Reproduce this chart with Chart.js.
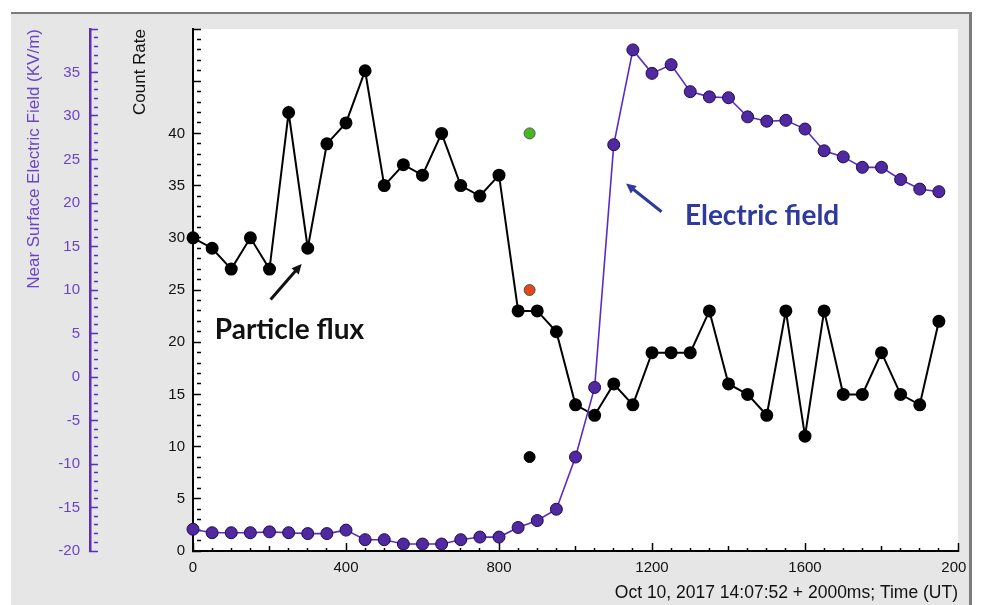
<!DOCTYPE html>
<html lang="en">
<head>
<meta charset="UTF-8">
<title>Particle flux and near surface electric field</title>
<script src="https://cdn.jsdelivr.net/npm/chart.js"></script>
<style>
  html, body { margin: 0; padding: 0; background: #fff; }
  #caixa { width: 981px; height: 605px; }
</style>
</head>
<body>
<div id="caixa"><canvas id="grafico" width="981" height="605"></canvas></div>
<script>
// tempo em ms depois de Oct 10, 2017 14:07:52 + 2000ms
const tempos = [0, 50, 100, 150, 200, 250, 300, 350, 400, 450,
                500, 550, 600, 650, 700, 750, 800, 850, 900, 950,
                1000, 1050, 1100, 1150, 1200, 1250, 1300, 1350, 1400, 1450,
                1500, 1550, 1600, 1650, 1700, 1750, 1800, 1850, 1900, 1950];

// Count Rate (eixo interno, preto)
const contagem = [30, 29, 27, 30, 27, 42, 29, 39, 41, 46,
                  35, 37, 36, 40, 35, 34, 36, 23, 23, 21,
                  14, 13, 16, 14, 19, 19, 19, 23, 16, 15,
                  13, 23, 11, 23, 15, 15, 19, 15, 14, 22];

// Near Surface Electric Field em KV/m (eixo externo, roxo)
const campoEletrico = [-17.5, -17.9, -17.9, -17.9, -17.8, -17.9, -18.0, -18.0, -17.6, -18.7,
                       -18.7, -19.2, -19.2, -19.2, -18.7, -18.4, -18.4, -17.3, -16.5, -15.2,
                       -9.2, -1.2, 26.7, 37.6, 34.9, 35.9, 32.8, 32.2, 32.1, 29.9,
                       29.4, 29.5, 28.5, 26.0, 25.3, 24.1, 24.1, 22.7, 21.6, 21.3];

// pontos soltos perto de 880 ms
const tempoSolto = 880;
const pontoVerde = 40;
const pontoVermelho = 25;
const pontoPreto = 9;

// textos e setas, em unidades dos eixos (x, count rate)
const notas = [
  { texto: 'Particle flux', t: 57, c: 21.2, cor: '#111111' },
  { texto: 'Electric field', t: 1286, c: 32.1, cor: '#2e3a9e' }
];
const setas = [
  { de: [203, 24.1], para: [284, 27.5], cor: '#111111' },
  { de: [1225, 32.5], para: [1132, 35.2], cor: '#2e3a9e' }
];

const roxoEixo = '#5a2fbf';
const roxoTexto = '#6a44c6';
const fonteEixo = 'Liberation Sans, Arial, sans-serif';

const pares = (xs, ys) => xs.map((x, i) => ({ x: x, y: ys[i] }));

// fundo cinza, area branca e moldura
const moldura = {
  id: 'moldura',
  beforeDraw(chart) {
    const ctx = chart.ctx;
    const a = chart.chartArea;
    ctx.save();
    ctx.fillStyle = '#ffffff';
    ctx.fillRect(0, 0, chart.width, chart.height);
    ctx.fillStyle = '#e6e6e6';
    ctx.fillRect(11, 13, 959, chart.height - 13);
    ctx.fillStyle = '#ffffff';
    ctx.fillRect(a.left, a.top, a.right - a.left, a.bottom - a.top);
    ctx.restore();
  },
  afterDraw(chart) {
    const ctx = chart.ctx;
    ctx.save();
    ctx.fillStyle = '#e6e6e6';
    ctx.fillRect(966, 14, 3, chart.height - 14);
    ctx.fillStyle = '#7c7c7c';
    ctx.fillRect(11, 12, 961, 2);
    ctx.fillRect(969, 12, 3, chart.height - 12);
    ctx.fillStyle = '#ffffff';
    ctx.fillRect(972, 0, chart.width - 972, chart.height);
    ctx.restore();
  }
};

// anotacoes "Particle flux" / "Electric field" com setas
const anotacoes = {
  id: 'anotacoes',
  afterDatasetsDraw(chart) {
    const ctx = chart.ctx;
    const sx = chart.scales.x;
    const sy = chart.scales.yCount;
    ctx.save();
    notas.forEach(n => {
      ctx.font = 'bold 28px Lato, "Open Sans", sans-serif';
      ctx.fillStyle = n.cor;
      ctx.textAlign = 'left';
      ctx.textBaseline = 'middle';
      ctx.fillText(n.texto, sx.getPixelForValue(n.t), sy.getPixelForValue(n.c));
    });
    setas.forEach(s => {
      const x1 = sx.getPixelForValue(s.de[0]), y1 = sy.getPixelForValue(s.de[1]);
      const x2 = sx.getPixelForValue(s.para[0]), y2 = sy.getPixelForValue(s.para[1]);
      const ang = Math.atan2(y2 - y1, x2 - x1);
      const cab = 11;
      ctx.strokeStyle = s.cor;
      ctx.fillStyle = s.cor;
      ctx.lineWidth = 3;
      ctx.beginPath();
      ctx.moveTo(x1, y1);
      ctx.lineTo(x2 - Math.cos(ang) * cab * 0.8, y2 - Math.sin(ang) * cab * 0.8);
      ctx.stroke();
      ctx.beginPath();
      ctx.moveTo(x2, y2);
      ctx.lineTo(x2 - cab * Math.cos(ang - 0.45), y2 - cab * Math.sin(ang - 0.45));
      ctx.lineTo(x2 - cab * Math.cos(ang + 0.45), y2 - cab * Math.sin(ang + 0.45));
      ctx.closePath();
      ctx.fill();
    });
    ctx.restore();
  }
};

const config = {
  type: 'line',
  data: {
    datasets: [
      {
        label: 'Green',
        data: [{ x: tempoSolto, y: pontoVerde }],
        yAxisID: 'yCount',
        showLine: false,
        pointRadius: 5.5,
        pointBackgroundColor: '#47b824',
        pointBorderColor: '#555555',
        pointBorderWidth: 1,
        order: 0,
        clip: false
      },
      {
        label: 'Red',
        data: [{ x: tempoSolto, y: pontoVermelho }],
        yAxisID: 'yCount',
        showLine: false,
        pointRadius: 5.5,
        pointBackgroundColor: '#e2481c',
        pointBorderColor: '#555555',
        pointBorderWidth: 1,
        order: 0,
        clip: false
      },
      {
        label: 'Black',
        data: [{ x: tempoSolto, y: pontoPreto }],
        yAxisID: 'yCount',
        showLine: false,
        pointRadius: 5.5,
        pointBackgroundColor: '#000000',
        pointBorderColor: '#000000',
        order: 0,
        clip: false
      },
      {
        label: 'Electric field',
        data: pares(tempos, campoEletrico),
        yAxisID: 'yE',
        borderColor: '#5b2cc4',
        borderWidth: 1.6,
        pointRadius: 6,
        pointBackgroundColor: '#50289f',
        pointBorderColor: '#1f0c50',
        pointBorderWidth: 1,
        tension: 0,
        order: 1,
        clip: false
      },
      {
        label: 'Particle flux',
        data: pares(tempos, contagem),
        yAxisID: 'yCount',
        borderColor: '#000000',
        borderWidth: 2,
        pointRadius: 5.5,
        pointBackgroundColor: '#000000',
        pointBorderColor: '#000000',
        tension: 0,
        order: 2,
        clip: false
      }
    ]
  },
  options: {
    responsive: false,
    animation: false,
    devicePixelRatio: 1,
    layout: { padding: { left: 11, top: 29, right: 23, bottom: 0 } },
    plugins: {
      legend: { display: false },
      tooltip: { enabled: false }
    },
    scales: {
      x: {
        type: 'linear',
        position: 'bottom',
        min: 0,
        max: 2000,
        afterFit: (s) => { s.height = 54; s.paddingLeft = 0; s.paddingRight = 0; },
        border: { display: true, color: '#000000', width: 2 },
        grid: {
          drawOnChartArea: false,
          drawTicks: true,
          tickLength: -8,
          tickColor: '#000000',
          tickWidth: 1.5,
          tickBorderDash: (ctx) => {
            const v = ctx.tick ? ctx.tick.value : 0;
            if (v % 400 === 0) return [];
            if (v % 200 === 0) return [6, 100];
            return [4, 100];
          }
        },
        ticks: {
          stepSize: 50,
          autoSkip: false,
          maxRotation: 0,
          padding: 15.5,
          color: '#111111',
          font: { family: fonteEixo, size: 15 },
          callback: (v) => (v % 400 === 0 ? String(v) : '')
        },
        title: {
          display: true,
          text: 'Oct 10, 2017 14:07:52 + 2000ms; Time (UT)',
          align: 'end',
          color: '#111111',
          font: { family: fonteEixo, size: 17.5 },
          padding: { top: 0, bottom: 1 }
        }
      },
      yCount: {
        type: 'linear',
        position: 'left',
        weight: 0,
        min: 0,
        max: 50,
        afterFit: (s) => { s.width = 103; },
        border: { display: true, color: '#000000', width: 2 },
        grid: {
          drawOnChartArea: false,
          drawTicks: true,
          tickLength: -8,
          tickColor: '#000000',
          tickWidth: 1.5,
          tickBorderDash: (ctx) => {
            const v = ctx.tick ? ctx.tick.value : 0;
            return v % 5 === 0 ? [] : [4, 100];
          }
        },
        ticks: {
          stepSize: 1,
          autoSkip: false,
          padding: 16,
          color: '#111111',
          font: { family: fonteEixo, size: 15 },
          callback: (v) => (v % 5 === 0 && v <= 40 ? String(v) : '')
        },
        title: {
          display: true,
          text: 'Count Rate',
          align: 'end',
          color: '#111111',
          font: { family: fonteEixo, size: 17 },
          padding: { top: 40, bottom: 0 }
        }
      },
      yE: {
        type: 'linear',
        position: 'left',
        weight: 1,
        min: -20,
        max: 40,
        afterFit: (s) => { s.width = 79; },
        border: { display: true, color: roxoEixo, width: 2.5 },
        grid: {
          drawOnChartArea: false,
          drawTicks: true,
          tickLength: -8,
          tickColor: roxoEixo,
          tickWidth: 1.5,
          tickBorderDash: (ctx) => {
            const v = ctx.tick ? ctx.tick.value : 0;
            return v % 5 === 0 ? [] : [4, 100];
          }
        },
        ticks: {
          stepSize: 1,
          autoSkip: false,
          padding: 18,
          color: roxoTexto,
          font: { family: fonteEixo, size: 15 },
          callback: (v) => (v % 5 === 0 && v <= 35 ? String(v) : '')
        },
        title: {
          display: true,
          text: 'Near Surface Electric Field (KV/m)',
          align: 'end',
          color: roxoTexto,
          font: { family: fonteEixo, size: 17 },
          padding: { top: 13, bottom: 0 }
        }
      }
    }
  },
  plugins: [moldura, anotacoes]
};

const grafico = new Chart(document.getElementById('grafico'), config);
</script>
</body>
</html>
